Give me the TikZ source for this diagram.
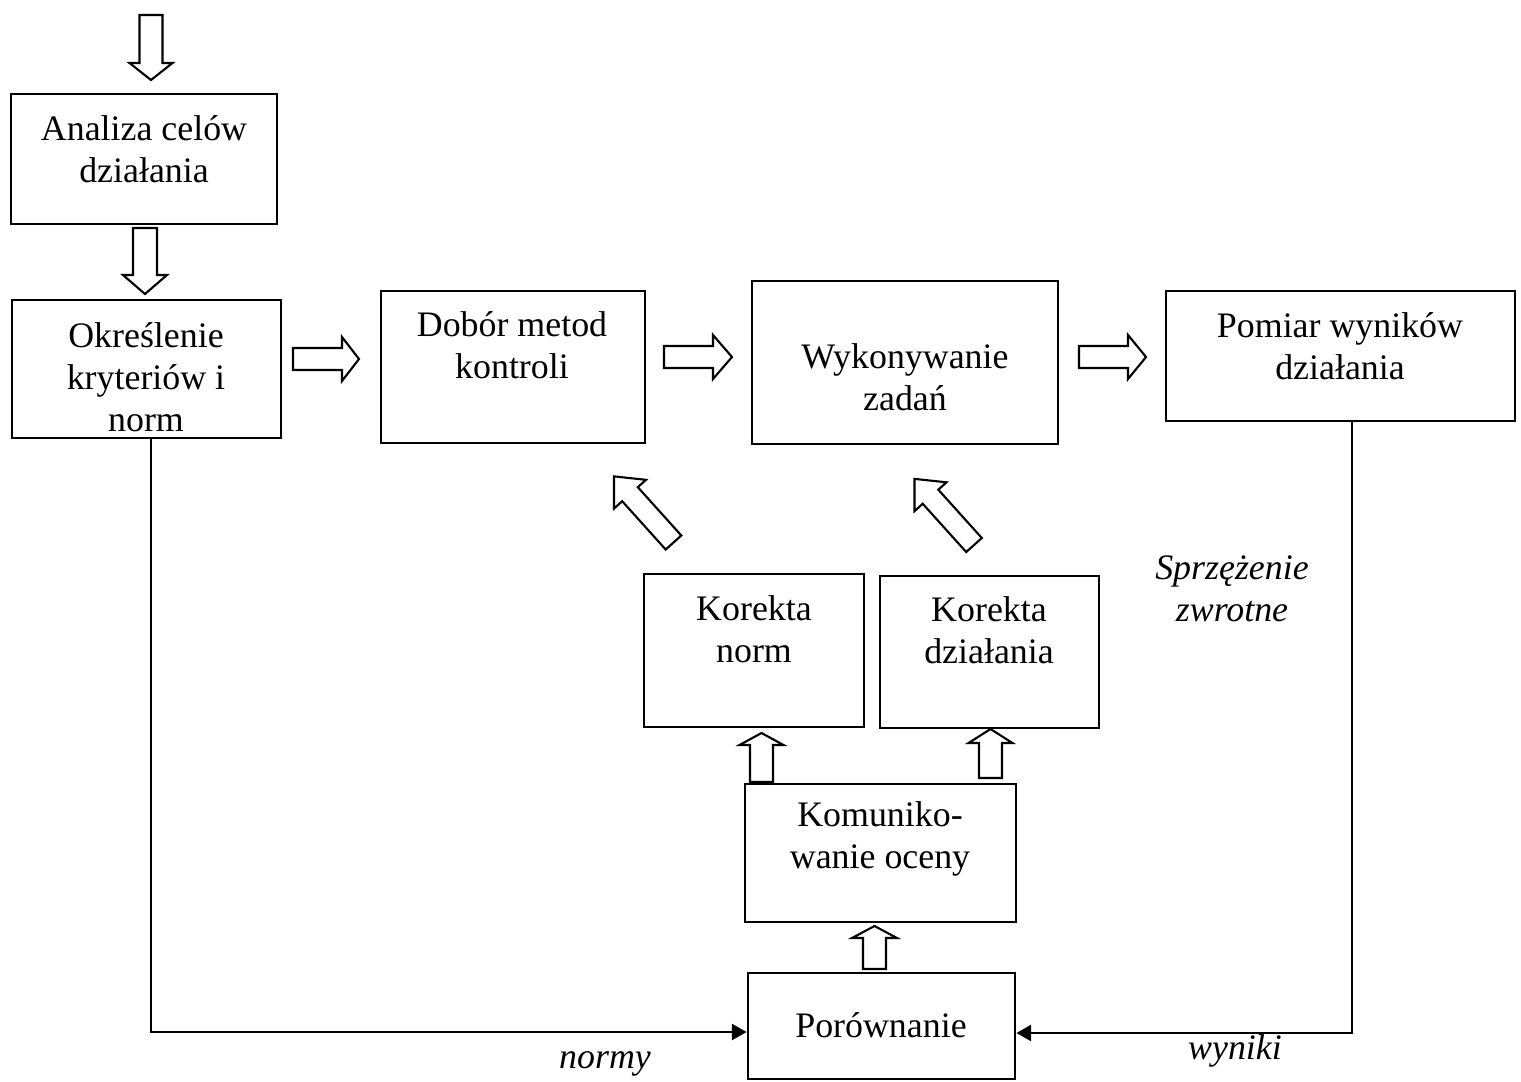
\documentclass[tikz,border=0pt]{standalone}
\usepackage{fontspec}
\setmainfont{Liberation Serif}
\usetikzlibrary{arrows.meta}
\newcommand\blkarrow[7]{\draw[blk,shift={(#1,#2)},rotate=#3] (0,-#5) -- ({#4-#7},-#5) -- ({#4-#7},-#6) -- (#4,0) -- ({#4-#7},#6) -- ({#4-#7},#5) -- (0,#5) -- cycle;}
\begin{document}
\begin{tikzpicture}[x=0.01cm,y=-0.01cm,
  box/.style={draw, line width=0.75pt, inner sep=0pt},
  txt/.style={align=center, inner sep=0pt, font=\fontsize{10.2}{12}\selectfont},
  lbl/.style={align=center, inner sep=0pt, font=\fontsize{10.2}{12}\selectfont\itshape},
  blk/.style={draw, line width=0.6pt, fill=white, line join=miter},
  conn/.style={line width=0.6pt, -{Triangle[length=4.2pt,width=4.6pt]}}]
\useasboundingbox (0,0) rectangle (1521,1081);
% boxes
\node[box, minimum width=2.66cm, minimum height=1.30cm] (b1) at (144,159) {};
\node[box, minimum width=2.69cm, minimum height=1.38cm] (b2) at (146.5,369) {};
\node[box, minimum width=2.64cm, minimum height=1.52cm] (b3) at (513,367) {};
\node[box, minimum width=3.06cm, minimum height=1.63cm] (b4) at (905,362.5) {};
\node[box, minimum width=3.49cm, minimum height=1.30cm] (b5) at (1340.5,356) {};
\node[box, minimum width=2.20cm, minimum height=1.53cm] (b6) at (754,650.5) {};
\node[box, minimum width=2.19cm, minimum height=1.52cm] (b7) at (989.5,652) {};
\node[box, minimum width=2.71cm, minimum height=1.38cm] (b8) at (880.5,853) {};
\node[box, minimum width=2.67cm, minimum height=1.06cm] (b9) at (881.5,1026) {};
% texts
\node[txt] (t1) at (144,149) {Analiza celów\\działania};
\begin{scope}
\clip (12,300) rectangle (281,433);
\node[txt] (t2) at (146,377) {Określenie\\kryteriów i\\norm};
\end{scope}
\node[txt] (t3) at (512,345) {Dobór metod\\kontroli};
\node[txt] (t4) at (905,377) {Wykonywanie\\zadań};
\node[txt] (t5) at (1340,346) {Pomiar wyników\\działania};
\node[txt] (t6) at (754,629) {Korekta\\norm};
\node[txt] (t7) at (989,630) {Korekta\\działania};
\node[txt] (t8) at (880,839) {Komuniko-\\wanie oceny};
\node[txt] (t9) at (881,1025) {Porównanie};
% labels
\node[lbl] (l1) at (1232,589) {Sprzężenie\\zwrotne};
\node[lbl] (l2) at (605,1064) {normy};
\node[lbl] (l3) at (1235,1051) {wyniki};
% connectors
\coordinate (lc) at (151,1032);
\coordinate (rc) at (1352,1033);
\draw[conn] (b2.south -| lc) -- (lc) -- (b9.west |- lc);
\draw[conn] (b5.south -| rc) -- (rc) -- (b9.east |- rc);
% block arrows
\blkarrow{151}{15}{-90}{65}{11.5}{21.5}{17}
\blkarrow{145}{228}{-90}{66}{12}{22}{19}
\blkarrow{293}{359}{0}{66}{11}{22}{17}
\blkarrow{664}{357}{0}{68}{11}{22}{19}
\blkarrow{1079}{357}{0}{67}{11}{22}{18}
\blkarrow{761.5}{782}{90}{49}{11.5}{22}{12}
\blkarrow{990.5}{778}{90}{49}{11.5}{22}{14}
\blkarrow{874.5}{969}{90}{43}{11.5}{22.5}{12}
\blkarrow{673.5}{542.5}{132}{89}{10.5}{21.5}{24}
\blkarrow{974}{545}{132}{89}{10.5}{21.5}{24}
\end{tikzpicture}
\end{document}
